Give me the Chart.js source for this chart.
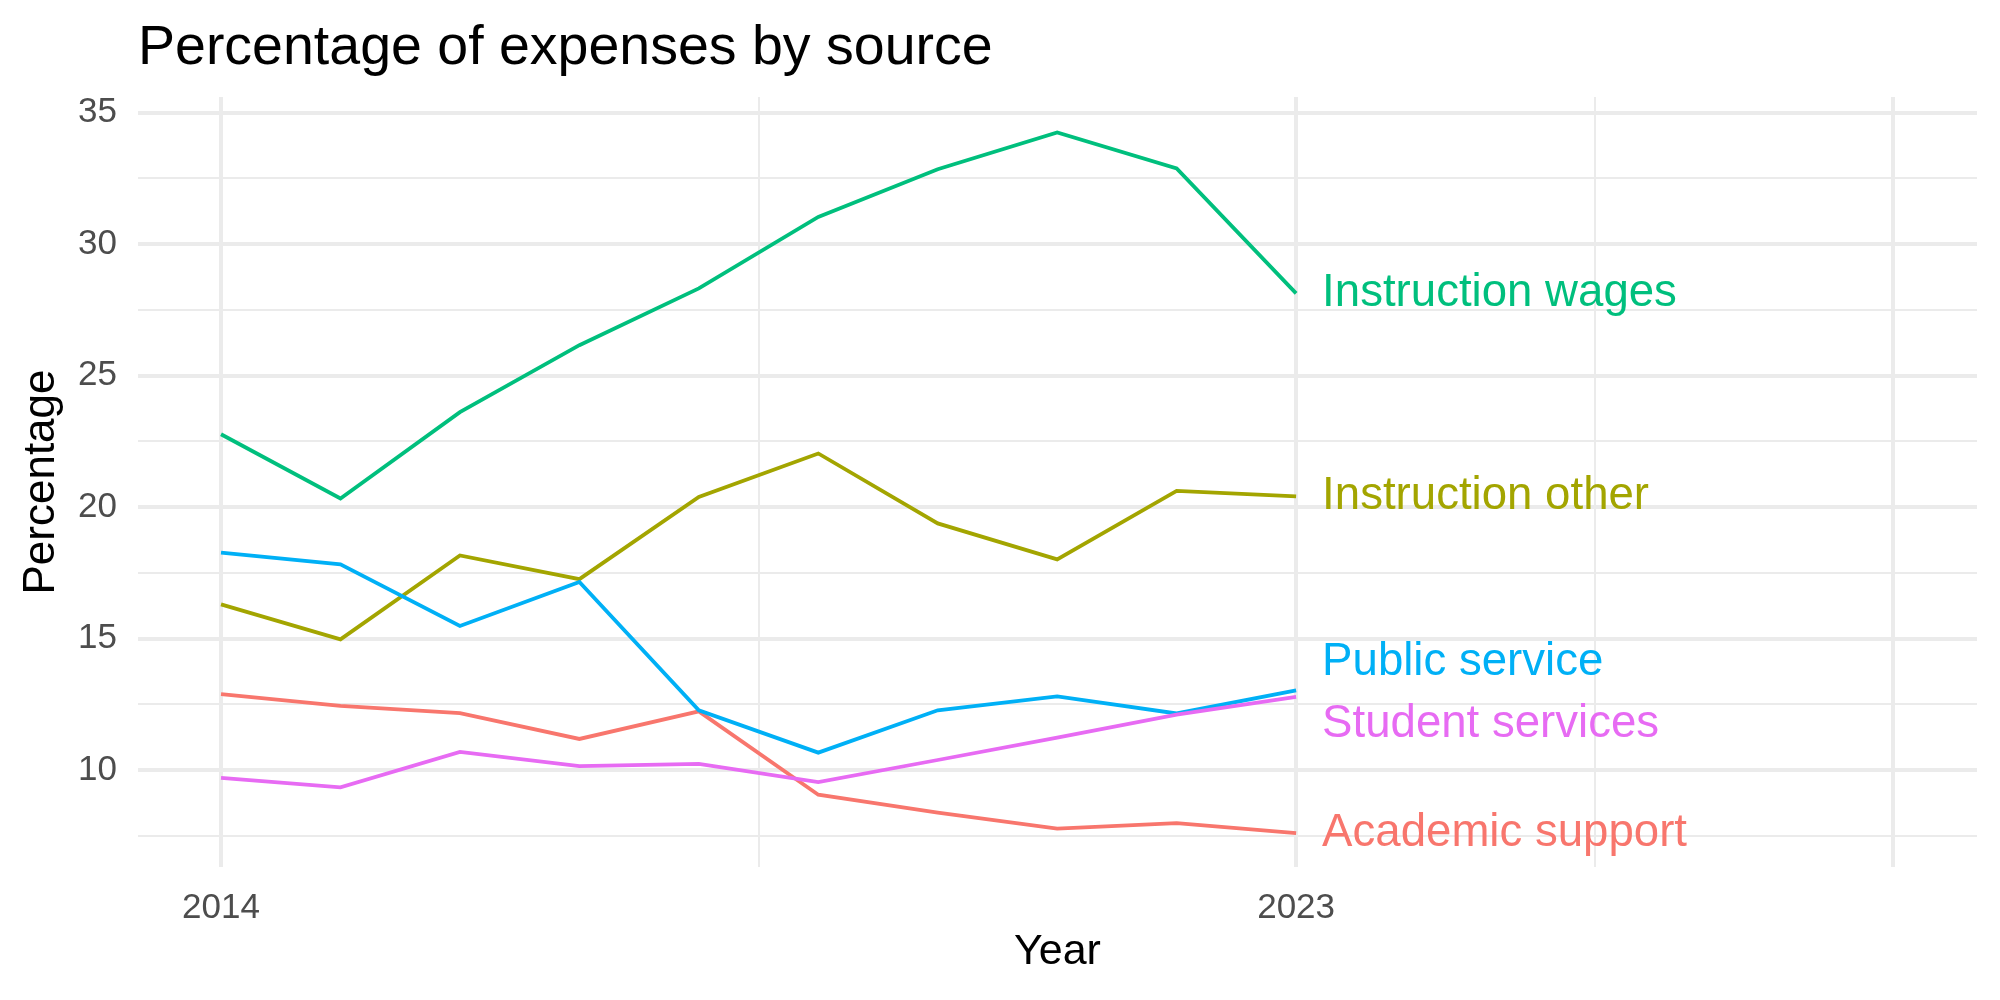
<!DOCTYPE html>
<html>
<head>
<meta charset="utf-8">
<script src="https://cdn.jsdelivr.net/npm/chart.js@4"></script>
<style>
  html, body { margin: 0; padding: 0; background: #fff; }
  #chart { display: block; }
</style>
</head>
<body>
<canvas id="chart" width="2000" height="1000"></canvas>
<script>
const years = [2014, 2015, 2016, 2017, 2018, 2019, 2020, 2021, 2022, 2023];

const academicSupport  = [12.89, 12.44, 12.16, 11.18, 12.23, 9.06, 8.38, 7.77, 7.98, 7.60];
const instructionOther = [16.30, 14.97, 18.16, 17.26, 20.39, 22.04, 19.38, 18.01, 20.62, 20.41];
const instructionWages = [22.77, 20.33, 23.61, 26.16, 28.32, 31.04, 32.85, 34.25, 32.88, 28.13];
const publicService    = [18.27, 17.82, 15.48, 17.15, 12.27, 10.66, 12.27, 12.80, 12.15, 13.03];
const studentServices  = [9.70, 9.34, 10.69, 10.15, 10.23, 9.54, 10.38, 11.23, 12.11, 12.78];

const seriesNames = ["Academic support", "Instruction other", "Instruction wages", "Public service", "Student services"];
const seriesValues = [academicSupport, instructionOther, instructionWages, publicService, studentServices];
const seriesColors = ["#F8766D", "#A3A500", "#00BF7D", "#00B0F6", "#E76BF3"];

// axis breaks (ggplot style: major + minor)
const xMajor = [2014, 2023, 2028];
const xMinor = [2018.5, 2025.5];
const xLabels = { 2014: "2014", 2023: "2023" };
const yMajor = [10, 15, 20, 25, 30, 35];
const yMinor = [7.5, 12.5, 17.5, 22.5, 27.5, 32.5];

const FONT = "'Liberation Sans', Arial, Helvetica, sans-serif";
const GRID = "#EBEBEB";

const datasets = seriesNames.map((name, i) => ({
  label: name,
  data: years.map((yr, j) => ({ x: yr, y: seriesValues[i][j] })),
  borderColor: seriesColors[i],
  backgroundColor: seriesColors[i],
  borderWidth: 3.8,
  pointRadius: 0,
  tension: 0,
  fill: false,
  order: seriesNames.length - 1 - i
}));

// labels at the end of each line, pushed apart when they overlap
const endLabels = {
  id: "endLabels",
  afterDatasetsDraw(chart) {
    const ctx = chart.ctx;
    const items = chart.data.datasets.map((ds, i) => {
      const meta = chart.getDatasetMeta(i);
      const pt = meta.data[meta.data.length - 1];
      return { text: ds.label, color: ds.borderColor, x: pt.x + 26, y: pt.y };
    }).sort((a, b) => a.y - b.y);
    const gap = 62;
    for (let it = 0; it < 50; it++) {
      for (let k = 1; k < items.length; k++) {
        const d = items[k].y - items[k - 1].y;
        if (d < gap) {
          const shift = (gap - d) / 2;
          items[k - 1].y -= shift;
          items[k].y += shift;
        }
      }
    }
    ctx.save();
    ctx.font = "45.6px " + FONT;
    ctx.textAlign = "left";
    ctx.textBaseline = "middle";
    items.forEach(l => {
      ctx.fillStyle = l.color;
      ctx.fillText(l.text, l.x, l.y);
    });
    ctx.restore();
  }
};

const plotTitle = {
  id: "plotTitle",
  afterDraw(chart) {
    const ctx = chart.ctx;
    ctx.save();
    ctx.font = "55.5px " + FONT;
    ctx.fillStyle = "#000";
    ctx.textAlign = "left";
    ctx.textBaseline = "alphabetic";
    ctx.fillText("Percentage of expenses by source", chart.chartArea.left, 64);
    ctx.restore();
  }
};

new Chart(document.getElementById("chart").getContext("2d"), {
  type: "line",
  data: { datasets: datasets },
  options: {
    responsive: false,
    devicePixelRatio: 1,
    animation: false,
    layout: { padding: { top: 97, right: 23, bottom: 0, left: 0 } },
    plugins: {
      legend: { display: false },
      tooltip: { enabled: false }
    },
    scales: {
      x: {
        type: "linear",
        min: 2013.305,
        max: 2028.70,
        afterBuildTicks: (scale) => {
          scale.ticks = xMajor.concat(xMinor).sort((a, b) => a - b).map(v => ({ value: v }));
        },
        afterFit: (scale) => { scale.height = 133; },
        ticks: {
          autoSkip: false,
          maxRotation: 0,
          padding: 20,
          color: "#4D4D4D",
          font: { size: 35, family: FONT },
          callback: (v) => xLabels[v] || ""
        },
        grid: {
          color: GRID,
          drawTicks: false,
          lineWidth: (c) => (xMinor.includes(c.tick.value) ? 2 : 4)
        },
        border: { display: false },
        title: {
          display: true,
          text: "Year",
          color: "#000",
          font: { size: 43, family: FONT },
          padding: { top: 0, bottom: 22 }
        }
      },
      y: {
        type: "linear",
        min: 6.31,
        max: 35.6,
        afterBuildTicks: (scale) => {
          scale.ticks = yMajor.concat(yMinor).sort((a, b) => a - b).map(v => ({ value: v }));
        },
        afterFit: (scale) => { scale.width = 138; },
        ticks: {
          autoSkip: false,
          padding: 21,
          color: "#4D4D4D",
          font: { size: 35, family: FONT },
          callback: (v) => (yMajor.includes(v) ? String(v) : "")
        },
        grid: {
          color: GRID,
          drawTicks: false,
          lineWidth: (c) => (yMinor.includes(c.tick.value) ? 2 : 4)
        },
        border: { display: false },
        title: {
          display: true,
          text: "Percentage",
          color: "#000",
          font: { size: 44, family: FONT },
          padding: { top: 15, bottom: 0 }
        }
      }
    }
  },
  plugins: [endLabels, plotTitle]
});
</script>
</body>
</html>
